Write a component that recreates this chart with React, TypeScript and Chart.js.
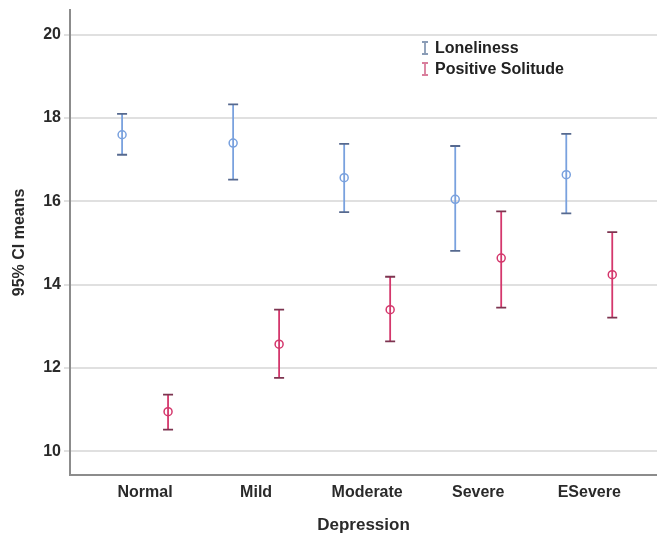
import React, { useEffect, useRef } from "react";
import { Chart, registerables } from "chart.js";

Chart.register(...registerables);

const categories = ["Normal", "Mild", "Moderate", "Severe", "ESevere"];
const seriesNames = ["Loneliness", "Positive Solitude"];
const lonMean = [17.6, 17.4, 16.57, 16.05, 16.64];
const lonLower = [17.12, 16.52, 15.74, 14.81, 15.71];
const lonUpper = [18.1, 18.33, 17.38, 17.33, 17.62];
const psMean = [10.95, 12.57, 13.4, 14.64, 14.24];
const psLower = [10.52, 11.76, 12.64, 13.45, 13.21];
const psUpper = [11.36, 13.4, 14.19, 15.76, 15.26];
const yTicks = [10, 12, 14, 16, 18, 20];

const FONT = "'Liberation Sans', Arial, sans-serif";
const OFFSET = 0.207;
const colors = {
  lonStem: "#79a1de",
  lonCap: "#56698f",
  lonIcon: "#8a9cb6",
  psStem: "#d4376c",
  psCap: "#7d3450",
  psIcon: "#d97e9c",
};

const errorBarPlugin = {
  id: "errorBars",
  beforeDatasetsDraw(chart: any) {
    const ctx = chart.ctx;
    const yScale = chart.scales.y;
    const sets = [
      { lo: lonLower, hi: lonUpper, stem: colors.lonStem, cap: colors.lonCap },
      { lo: psLower, hi: psUpper, stem: colors.psStem, cap: colors.psCap },
    ];
    sets.forEach((s, di) => {
      const meta = chart.getDatasetMeta(di);
      meta.data.forEach((pt: any, i: number) => {
        const x = pt.x;
        const yl = yScale.getPixelForValue(s.lo[i]);
        const yh = yScale.getPixelForValue(s.hi[i]);
        ctx.save();
        ctx.strokeStyle = s.stem;
        ctx.lineWidth = 1.8;
        ctx.beginPath();
        ctx.moveTo(x, yl);
        ctx.lineTo(x, yh);
        ctx.stroke();
        ctx.strokeStyle = s.cap;
        ctx.lineWidth = 1.8;
        ctx.beginPath();
        ctx.moveTo(x - 5, yl);
        ctx.lineTo(x + 5, yl);
        ctx.moveTo(x - 5, yh);
        ctx.lineTo(x + 5, yh);
        ctx.stroke();
        ctx.restore();
      });
    });
  },
};

const legendPlugin = {
  id: "customLegend",
  afterDraw(chart: any) {
    const ctx = chart.ctx;
    const items = [
      { label: seriesNames[0], color: colors.lonIcon, y: 48 },
      { label: seriesNames[1], color: colors.psIcon, y: 69 },
    ];
    ctx.save();
    items.forEach((it) => {
      const x = 425;
      ctx.strokeStyle = it.color;
      ctx.lineWidth = 1.8;
      ctx.beginPath();
      ctx.moveTo(x, it.y - 6);
      ctx.lineTo(x, it.y + 6);
      ctx.moveTo(x - 3, it.y - 6);
      ctx.lineTo(x + 3, it.y - 6);
      ctx.moveTo(x - 3, it.y + 6);
      ctx.lineTo(x + 3, it.y + 6);
      ctx.stroke();
      ctx.fillStyle = "#222";
      ctx.font = `bold 16px ${FONT}`;
      ctx.textBaseline = "middle";
      ctx.textAlign = "left";
      ctx.fillText(it.label, 435, it.y + 1);
    });
    ctx.restore();
  },
};

export default function App() {
  const ref = useRef<HTMLCanvasElement>(null);
  useEffect(() => {
    document.body.style.margin = "0";
    const chart = new Chart(ref.current!, {
      type: "scatter",
      data: {
        datasets: [
          {
            label: seriesNames[0],
            data: lonMean.map((v, i) => ({ x: i - OFFSET, y: v })),
            borderColor: colors.lonStem,
            backgroundColor: "rgba(0,0,0,0)",
            pointRadius: 4,
            borderWidth: 1.5,
          },
          {
            label: seriesNames[1],
            data: psMean.map((v, i) => ({ x: i + OFFSET, y: v })),
            borderColor: colors.psStem,
            backgroundColor: "rgba(0,0,0,0)",
            pointRadius: 4,
            borderWidth: 1.5,
          },
        ],
      },
      options: {
        responsive: false,
        animation: false,
        layout: { autoPadding: false, padding: { top: 7, right: 0, left: 0, bottom: 0 } },
        plugins: { legend: { display: false }, tooltip: { enabled: false } },
        scales: {
          x: {
            type: "linear",
            min: -0.676,
            max: 4.61,
            afterFit: (s: any) => {
              s.height = 63;
            },
            afterBuildTicks: (s: any) => {
              s.ticks = categories.map((_, i) => ({ value: i }));
            },
            grid: { display: false, drawTicks: false },
            border: { color: "#8c8c8c", width: 2 },
            ticks: {
              autoSkip: false,
              maxRotation: 0,
              padding: 8,
              color: "#2a2a2a",
              font: { family: FONT, size: 16, weight: "bold" },
              callback: (v: any) => categories[v] ?? "",
            },
            title: {
              display: true,
              text: "Depression",
              color: "#2a2a2a",
              font: { family: FONT, size: 17, weight: "bold" },
              padding: { top: 0, bottom: 2 },
            },
          },
          y: {
            min: 9.43,
            max: 20.6,
            afterFit: (s: any) => {
              s.width = 70;
            },
            afterBuildTicks: (s: any) => {
              s.ticks = yTicks.map((v) => ({ value: v }));
            },
            grid: { color: "#e0e0e0", lineWidth: 2, tickLength: 6 },
            border: { color: "#8c8c8c", width: 2 },
            ticks: {
              padding: 3,
              color: "#2a2a2a",
              font: { family: FONT, size: 16, weight: "bold", lineHeight: 0.85 },
            },
            title: {
              display: true,
              text: "95% CI means",
              color: "#2a2a2a",
              font: { family: FONT, size: 16, weight: "bold" },
              padding: { top: 10, bottom: 0 },
            },
          },
        },
      },
      plugins: [errorBarPlugin, legendPlugin],
    } as any);
    return () => chart.destroy();
  }, []);
  return (
    <div style={{ width: 657, height: 538 }}>
      <canvas ref={ref} width={657} height={538} />
    </div>
  );
}
